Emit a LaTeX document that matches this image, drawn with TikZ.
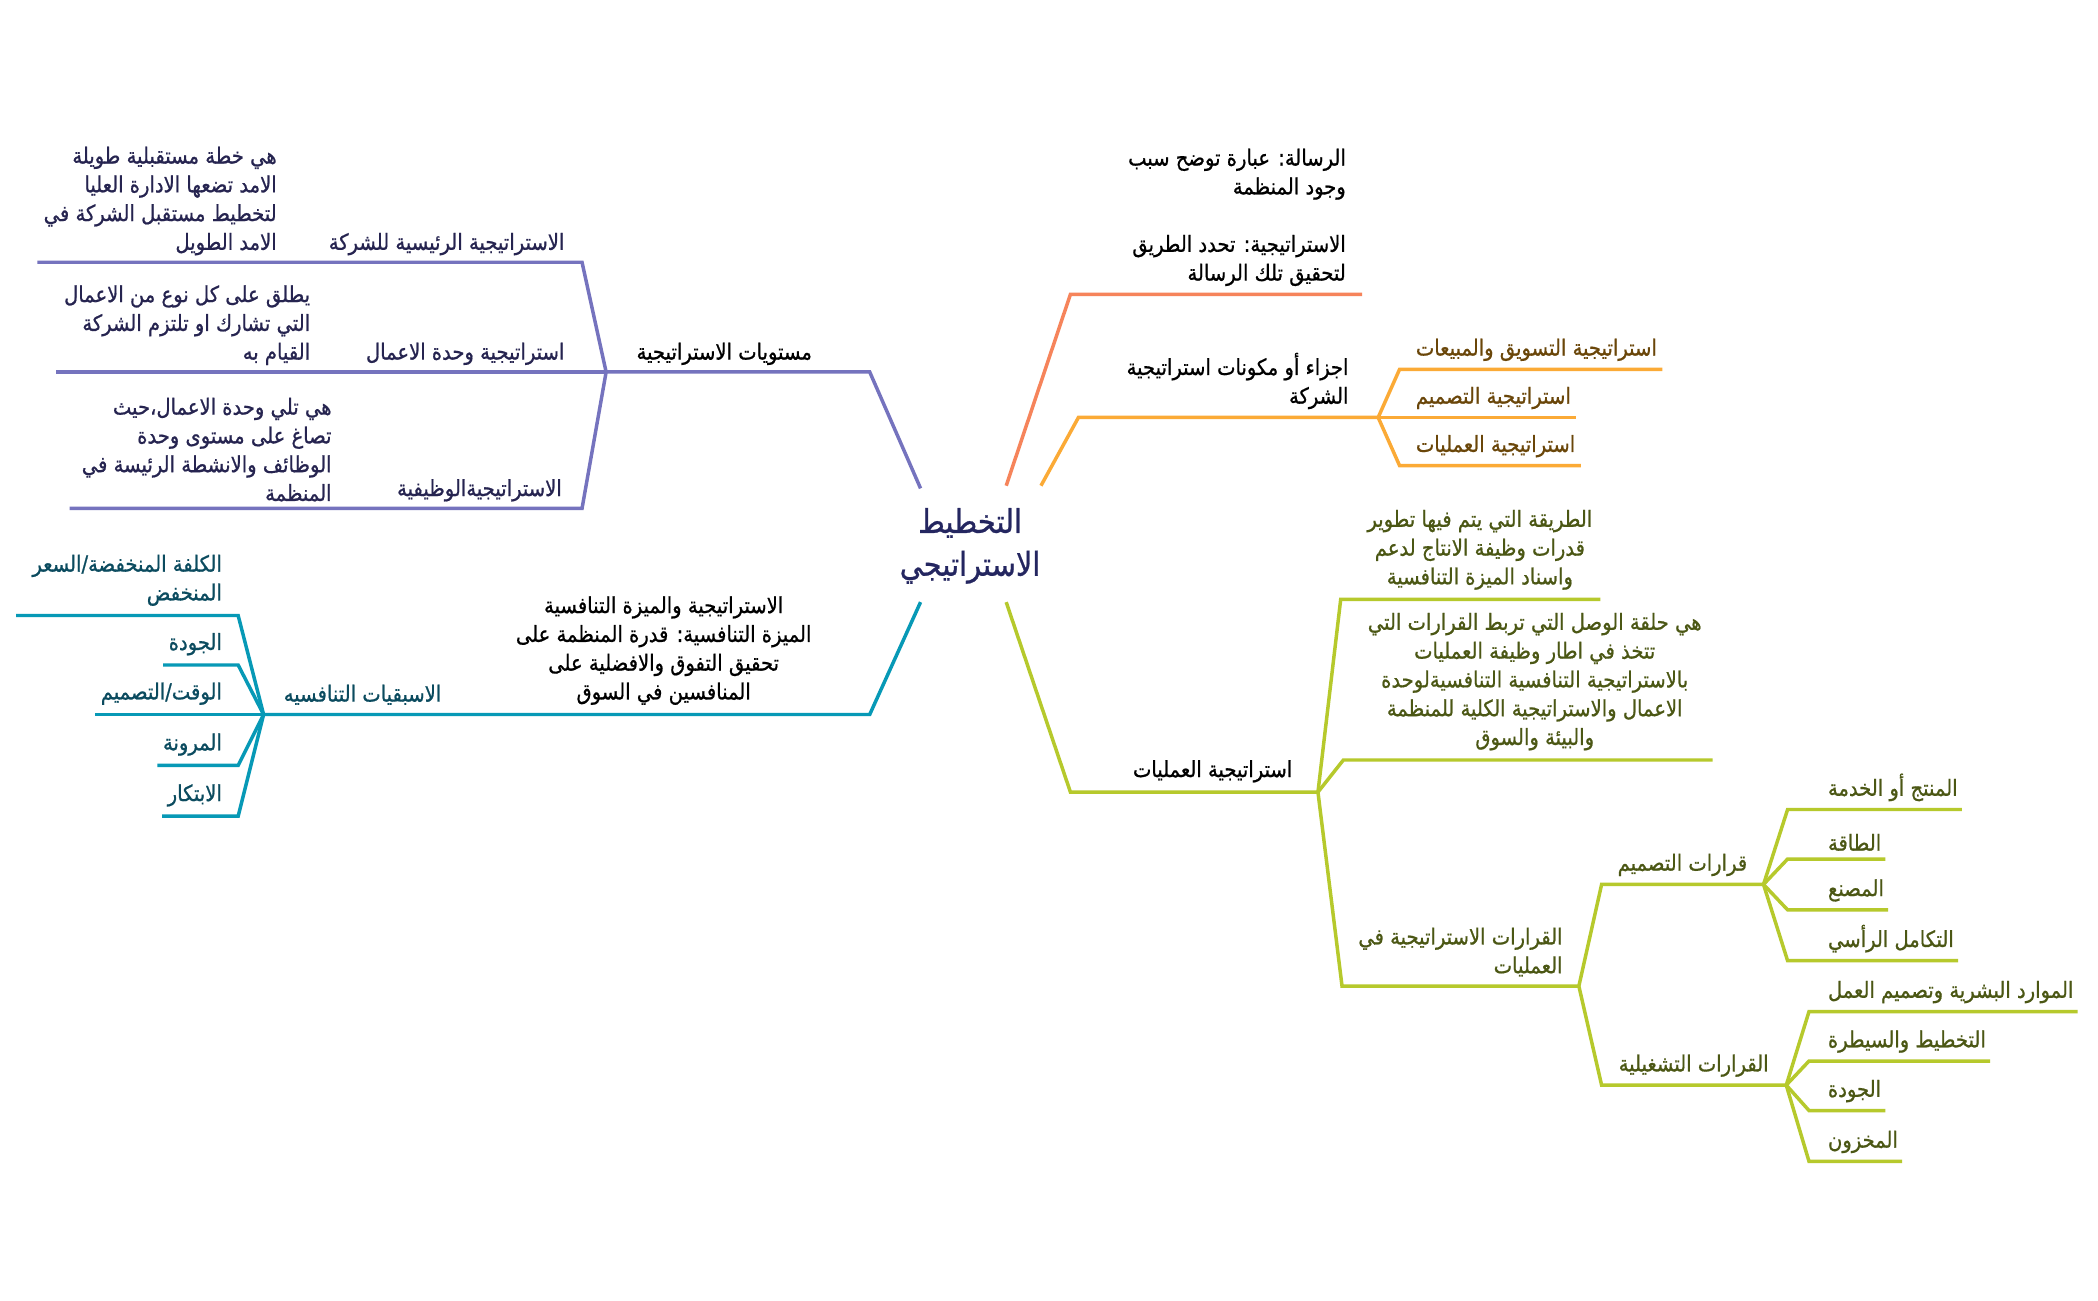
\documentclass[tikz,border=0pt]{standalone}
\usepackage{fontspec}
\newfontfamily\arabicfont[Script=Arabic, FakeStretch=0.88, FakeBold=0.8]{DejaVu Sans}
\TeXXeTstate=1
\newcommand{\AR}[1]{\beginR #1\endR}
\definecolor{cP}{HTML}{7573BE}
\definecolor{cC}{HTML}{F6845B}
\definecolor{cO}{HTML}{FBAA36}
\definecolor{cT}{HTML}{0799B6}
\definecolor{cL}{HTML}{B6C92C}
\definecolor{tNavy}{HTML}{242660}
\definecolor{tP}{HTML}{262450}
\definecolor{tO}{HTML}{6A4609}
\definecolor{tT}{HTML}{0B4B5F}
\definecolor{tL}{HTML}{4B5714}
\begin{document}
\begin{tikzpicture}[x=1pt,y=-1pt,
  br/.style={line width=2.6pt},
  txt/.style={inner sep=0pt, font=\arabicfont\fontsize{16.6}{21.5}\selectfont, text=black},
  titletxt/.style={inner sep=0pt, font=\arabicfont\fontsize{24.5}{32}\selectfont, text=tNavy, align=center}]
\fill[white] (0,0) rectangle (1568,971.6);
\useasboundingbox (0,0) rectangle (1568,971.6);

% ---------- centre ----------
\node[titletxt] (root) at (725,408) {\AR{التخطيط}\\\AR{الاستراتيجي}};

% ---------- purple branch ----------
\coordinate (p0) at (688,365);
\coordinate (p1) at (650,278);
\coordinate (pJ) at (453,278);
\coordinate (pa1) at (435,196); \coordinate (pa2) at (28,196);
\coordinate (pb2) at (42,278);
\coordinate (pc1) at (435,380); \coordinate (pc2) at (52,380);
\draw[br,cP] (p0) -- (p1) -- (pJ);
\draw[br,cP] (pJ) -- (pa1) -- (pa2);
\draw[br,cP] (pJ) -- (pb2);
\draw[br,cP] (pJ) -- (pc1) -- (pc2);
\node[txt, anchor=south east] (pT) at (607,273) {\AR{مستويات الاستراتيجية}};
\node[txt, anchor=south east, text=tP] (paT) at (422,191) {\AR{الاستراتيجية الرئيسية للشركة}};
\node[txt, anchor=south east, text=tP, align=right] (paD) at (207,191)
  {\AR{هي خطة مستقبلية طويلة}\\\AR{الامد تضعها الادارة العليا}\\\AR{لتخطيط مستقبل الشركة في}\\\AR{الامد الطويل}};
\node[txt, anchor=south east, text=tP] (pbT) at (422,273) {\AR{استراتيجية وحدة الاعمال}};
\node[txt, anchor=south east, text=tP, align=right] (pbD) at (232,273)
  {\AR{يطلق على كل نوع من الاعمال}\\\AR{التي تشارك او تلتزم الشركة}\\\AR{القيام به}};
\node[txt, anchor=south east, text=tP] (pcT) at (420,375) {\AR{الاستراتيجيةالوظيفية}};
\node[txt, anchor=south east, text=tP, align=right] (pcD) at (248,375)
  {\AR{هي تلي وحدة الاعمال،حيث}\\\AR{تصاغ على مستوى وحدة}\\\AR{الوظائف والانشطة الرئيسة في}\\\AR{المنظمة}};

% ---------- coral branch ----------
\coordinate (c0) at (752,363);
\coordinate (c1) at (800,220);
\coordinate (c2) at (1018,220);
\draw[br,cC] (c0) -- (c1) -- (c2);
\node[txt, anchor=south east, align=right] (cT) at (1006,214)
  {\AR{الرسالة\kern0pt: عبارة توضح سبب}\\\AR{وجود المنظمة}\\[21.5pt]\AR{الاستراتيجية\kern0pt: تحدد الطريق}\\\AR{لتحقيق تلك الرسالة}};

% ---------- orange branch ----------
\coordinate (o0) at (778,363);
\coordinate (o1) at (806,312);
\coordinate (oJ) at (1030,312);
\coordinate (oa1) at (1046,276);
\coordinate (ob1) at (1046,312);
\coordinate (oc1) at (1046,348);
\draw[br,cO] (o0) -- (o1) -- (oJ);
\node[txt, anchor=south east, align=right] (oT) at (1008,306)
  {\AR{اجزاء أو مكونات استراتيجية}\\\AR{الشركة}};
\node[txt, anchor=south west, text=tO] (oaT) at (1058,270) {\AR{استراتيجية التسويق والمبيعات}};
\node[txt, anchor=south west, text=tO] (obT) at (1058,306) {\AR{استراتيجية التصميم}};
\node[txt, anchor=south west, text=tO] (ocT) at (1058,342) {\AR{استراتيجية العمليات}};
\draw[br,cO] (oJ) -- (oa1) -- (oa1 -| oaT.east) -- ++(4,0);
\draw[br,cO] (oJ) -- (ob1) -- (ob1 -| obT.east) -- ++(4,0);
\draw[br,cO] (oJ) -- (oc1) -- (oc1 -| ocT.east) -- ++(4,0);

% ---------- teal branch ----------
\coordinate (t0) at (688,450);
\coordinate (t1) at (650,534);
\coordinate (tJ) at (197,534);
\coordinate (ta1) at (178,460); \coordinate (ta2) at (12,460);
\coordinate (tb1) at (178,497);
\coordinate (tc1) at (178,534);
\coordinate (td1) at (178,572);
\coordinate (te1) at (178,610);
\draw[br,cT] (t0) -- (t1) -- (tJ);
\node[txt, anchor=south, align=center] (tT) at (496,527)
  {\AR{الاستراتيجية والميزة التنافسية}\\\AR{الميزة التنافسية\kern0pt: قدرة المنظمة على}\\\AR{تحقيق التفوق والافضلية على}\\\AR{المنافسين في السوق}};
\node[txt, anchor=south east, text=tT] (tAdv) at (330,527) {\AR{الاسبقيات التنافسيه}};
\node[txt, anchor=south east, text=tT, align=right] (taT) at (166,453) {\AR{الكلفة المنخفضة/السعر}\\\AR{المنخفض}};
\node[txt, anchor=south east, text=tT] (tbT) at (166,490) {\AR{الجودة}};
\node[txt, anchor=south east, text=tT] (tcT) at (166,527) {\AR{الوقت/التصميم}};
\node[txt, anchor=south east, text=tT] (tdT) at (166,565) {\AR{المرونة}};
\node[txt, anchor=south east, text=tT] (teT) at (166,603) {\AR{الابتكار}};
\draw[br,cT] (tJ) -- (ta1) -- (ta2);
\draw[br,cT] (tJ) -- (tb1) -- (tb1 -| tbT.west) -- ++(-4,0);
\draw[br,cT] (tJ) -- (tc1 -| tcT.west) -- ++(-4,0);
\draw[br,cT] (tJ) -- (td1) -- (td1 -| tdT.west) -- ++(-4,0);
\draw[br,cT] (tJ) -- (te1) -- (te1 -| teT.west) -- ++(-4,0);

% ---------- lime branch ----------
\coordinate (l0) at (752,450);
\coordinate (l1) at (800,592);
\coordinate (lJ) at (985,592);
\coordinate (la1) at (1002,448); \coordinate (la2) at (1196,448);
\coordinate (lb1) at (1004,568); \coordinate (lb2) at (1280,568);
\coordinate (lc1) at (1003,737); \coordinate (lcJ) at (1180,737);
\coordinate (ld1) at (1197,661); \coordinate (ldJ) at (1318,661);
\coordinate (le1) at (1197,811); \coordinate (leJ) at (1335,811);
\draw[br,cL] (l0) -- (l1) -- (lJ);
\draw[br,cL] (lJ) -- (la1) -- (la2);
\draw[br,cL] (lJ) -- (lb1) -- (lb2);
\draw[br,cL] (lJ) -- (lc1) -- (lcJ);
\draw[br,cL] (lcJ) -- (ld1) -- (ldJ);
\draw[br,cL] (lcJ) -- (le1) -- (leJ);
\node[txt, anchor=south east] (lT) at (966,585) {\AR{استراتيجية العمليات}};
\node[txt, anchor=south, text=tL, align=center] (laT) at (1106,441)
  {\AR{الطريقة التي يتم فيها تطوير}\\\AR{قدرات وظيفة الانتاج لدعم}\\\AR{واسناد الميزة التنافسية}};
\node[txt, anchor=south, text=tL, align=center] (lbT) at (1147,561)
  {\AR{هي حلقة الوصل التي تربط القرارات التي}\\\AR{تتخذ في اطار وظيفة العمليات}\\\AR{بالاستراتيجية التنافسية التنافسيةلوحدة}\\\AR{الاعمال والاستراتيجية الكلية للمنظمة}\\\AR{والبيئة والسوق}};
\node[txt, anchor=south east, text=tL, align=right] (lcT) at (1168,730)
  {\AR{القرارات الاستراتيجية في}\\\AR{العمليات}};
\node[txt, anchor=south east, text=tL] (ldT) at (1306,655) {\AR{قرارات التصميم}};
\node[txt, anchor=south east, text=tL] (leT) at (1322,805) {\AR{القرارات التشغيلية}};

\coordinate (ld1c) at (1336,605);
\coordinate (ld2c) at (1336,642);
\coordinate (ld3c) at (1336,680);
\coordinate (ld4c) at (1336,718);
\node[txt, anchor=south west, text=tL] (ld1T) at (1366,599) {\AR{المنتج أو الخدمة}};
\node[txt, anchor=south west, text=tL] (ld2T) at (1366,636) {\AR{الطاقة}};
\node[txt, anchor=south west, text=tL] (ld3T) at (1366,674) {\AR{المصنع}};
\node[txt, anchor=south west, text=tL] (ld4T) at (1366,712) {\AR{التكامل الرأسي}};
\draw[br,cL] (ldJ) -- (ld1c) -- (ld1c -| ld1T.east) -- ++(3,0);
\draw[br,cL] (ldJ) -- (ld2c) -- (ld2c -| ld2T.east) -- ++(3,0);
\draw[br,cL] (ldJ) -- (ld3c) -- (ld3c -| ld3T.east) -- ++(3,0);
\draw[br,cL] (ldJ) -- (ld4c) -- (ld4c -| ld4T.east) -- ++(3,0);

\coordinate (le1c) at (1352,756);
\coordinate (le2c) at (1352,793);
\coordinate (le3c) at (1352,830);
\coordinate (le4c) at (1352,868);
\node[txt, anchor=south west, text=tL] (le1T) at (1366,750) {\AR{الموارد البشرية وتصميم العمل}};
\node[txt, anchor=south west, text=tL] (le2T) at (1366,787) {\AR{التخطيط والسيطرة}};
\node[txt, anchor=south west, text=tL] (le3T) at (1366,824) {\AR{الجودة}};
\node[txt, anchor=south west, text=tL] (le4T) at (1366,862) {\AR{المخزون}};
\draw[br,cL] (leJ) -- (le1c) -- (le1c -| le1T.east) -- ++(3,0);
\draw[br,cL] (leJ) -- (le2c) -- (le2c -| le2T.east) -- ++(3,0);
\draw[br,cL] (leJ) -- (le3c) -- (le3c -| le3T.east) -- ++(3,0);
\draw[br,cL] (leJ) -- (le4c) -- (le4c -| le4T.east) -- ++(3,0);
\end{tikzpicture}
\end{document}
